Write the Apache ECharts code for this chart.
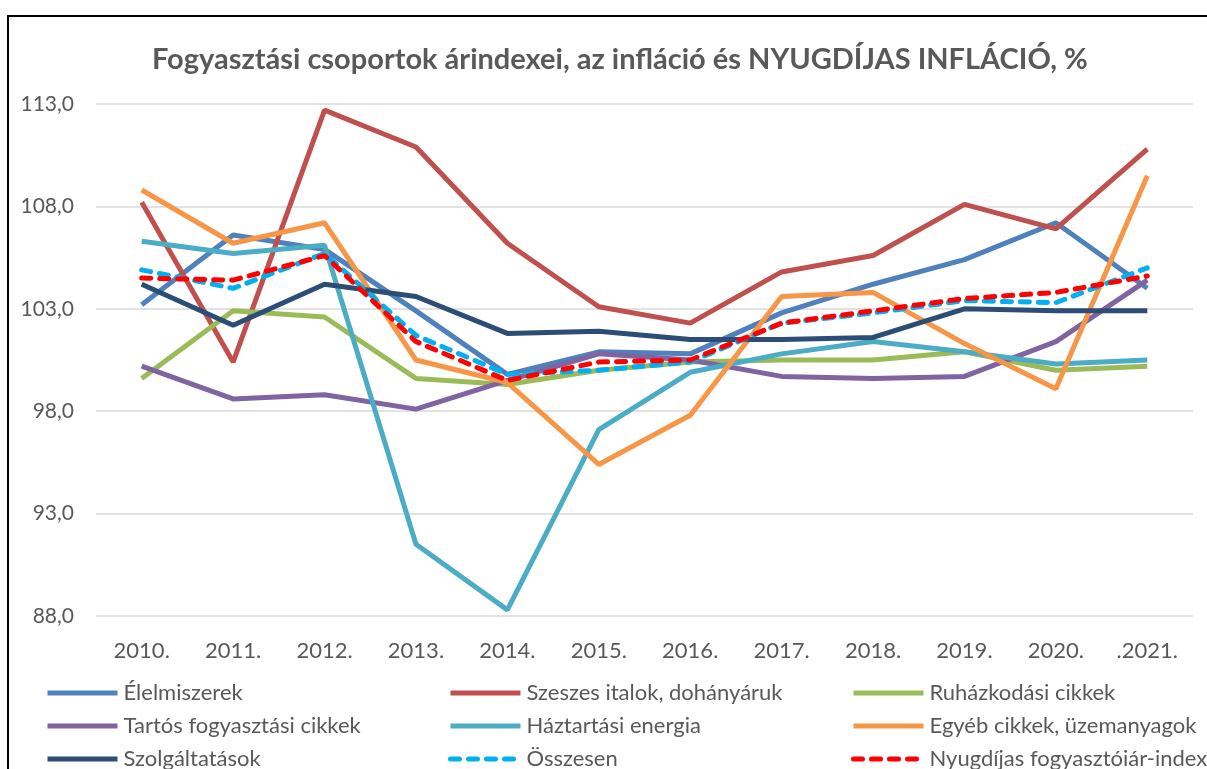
<!DOCTYPE html>
<html>
<head>
<meta charset="utf-8">
<title>Fogyasztási csoportok árindexei</title>
<script src="https://cdn.jsdelivr.net/npm/echarts@6/dist/echarts.min.js"></script>
<style>
  html, body { margin: 0; padding: 0; background: #fff; }
  #chart { width: 1207px; height: 769px; }
</style>
</head>
<body>
<div id="chart"></div>
<script>
// data
const years = ['2010.', '2011.', '2012.', '2013.', '2014.', '2015.', '2016.', '2017.', '2018.', '2019.', '2020.', '.2021.'];

const elelmiszerek   = [103.2, 106.6, 105.9, 102.9,  99.8, 100.9, 100.8, 102.8, 104.2, 105.4, 107.2, 104.0];
const szeszes        = [108.2, 100.4, 112.7, 110.9, 106.2, 103.1, 102.3, 104.8, 105.6, 108.1, 106.9, 110.8];
const ruhazkodasi    = [ 99.6, 102.9, 102.6,  99.6,  99.3, 100.0, 100.4, 100.5, 100.5, 100.9, 100.0, 100.2];
const tartos         = [100.2,  98.6,  98.8,  98.1,  99.5, 100.8, 100.5,  99.7,  99.6,  99.7, 101.4, 104.4];
const haztartasi     = [106.3, 105.7, 106.1,  91.5,  88.3,  97.1,  99.9, 100.8, 101.4, 100.9, 100.3, 100.5];
const egyeb          = [108.8, 106.2, 107.2, 100.5,  99.4,  95.4,  97.8, 103.6, 103.8, 101.3,  99.1, 109.5];
const szolgaltatasok = [104.2, 102.2, 104.2, 103.6, 101.8, 101.9, 101.5, 101.5, 101.6, 103.0, 102.9, 102.9];
const osszesen       = [104.9, 104.0, 105.7, 101.7,  99.8, 100.0, 100.4, 102.3, 102.8, 103.4, 103.3, 105.0];
const nyugdijas      = [104.5, 104.4, 105.6, 101.4,  99.5, 100.4, 100.5, 102.3, 102.9, 103.5, 103.8, 104.6];

const yTicks = { min: 88, max: 113, step: 5 };

const font = 'Lato, "Open Sans", sans-serif';
const grey = '#595959';

function line(name, data, color, dashed) {
  return {
    name: name,
    type: 'line',
    data: data,
    symbol: 'none',
    lineStyle: {
      color: color,
      width: 5,
      type: dashed ? [9, 9] : 'solid',
      cap: dashed ? 'round' : 'butt'
    },
    itemStyle: { color: color }
  }
}

// one legend per entry so the 3x3 layout sits where the reference has it
const legendCols = [45, 448, 851];
const legendRows = [682, 715, 748];
const legendNames = [
  ['Élelmiszerek', 'Szeszes italok, dohányáruk', 'Ruházkodási cikkek'],
  ['Tartós fogyasztási cikkek', 'Háztartási energia', 'Egyéb cikkek, üzemanyagok'],
  ['Szolgáltatások', 'Összesen', 'Nyugdíjas fogyasztóiár-index']
];
let legends = [];
legendNames.forEach((row, r) => {
  row.forEach((name, c) => {
    legends.push({
      left: legendCols[c],
      top: legendRows[r],
      padding: 0,
      itemWidth: 70,
      itemHeight: 14,
      itemGap: 0,
      data: [name],
      itemStyle: { opacity: 0 },
      lineStyle: { width: 5 },
      textStyle: { color: grey, fontSize: 22, fontFamily: font, padding: [0, 0, 0, 1] }
    })
  })
});

const chart = echarts.init(document.getElementById('chart'), null, { renderer: 'canvas' });
chart.setOption({
  animation: false,
  backgroundColor: '#fff',
  title: {
    text: 'Fogyasztási csoportok árindexei, az infláció és NYUGDÍJAS INFLÁCIÓ, %',
    left: 147,
    top: 40,
    textStyle: { color: grey, fontSize: 29, fontWeight: 'bold', fontFamily: font }
  },
  graphic: [{
    type: 'rect',
    shape: { x: 8, y: 16, width: 1240, height: 800 },
    style: { fill: 'none', stroke: '#000', lineWidth: 2 },
    silent: true
  }],
  grid: { left: 96, right: 14, top: 104, bottom: 153 },
  xAxis: {
    type: 'category',
    data: years,
    axisLine: { show: false },
    axisTick: { show: false },
    axisLabel: { color: grey, fontSize: 22, fontFamily: font, margin: 24 }
  },
  yAxis: {
    type: 'value',
    min: yTicks.min,
    max: yTicks.max,
    interval: yTicks.step,
    axisLine: { show: false },
    axisTick: { show: false },
    axisLabel: {
      color: grey, fontSize: 21, fontFamily: font, margin: 22,
      formatter: v => v.toFixed(1).replace('.', ',')
    },
    splitLine: { lineStyle: { color: '#d9d9d9', width: 1.5 } }
  },
  legend: legends,
  series: [
    line('Élelmiszerek', elelmiszerek, '#4f81bd'),
    line('Szeszes italok, dohányáruk', szeszes, '#c0504d'),
    line('Ruházkodási cikkek', ruhazkodasi, '#9bbb59'),
    line('Tartós fogyasztási cikkek', tartos, '#8064a2'),
    line('Háztartási energia', haztartasi, '#4bacc6'),
    line('Egyéb cikkek, üzemanyagok', egyeb, '#f79646'),
    line('Szolgáltatások', szolgaltatasok, '#2c4d75'),
    line('Összesen', osszesen, '#00b0f0', true),
    line('Nyugdíjas fogyasztóiár-index', nyugdijas, '#ff0000', true)
  ]
});
</script>
</body>
</html>
